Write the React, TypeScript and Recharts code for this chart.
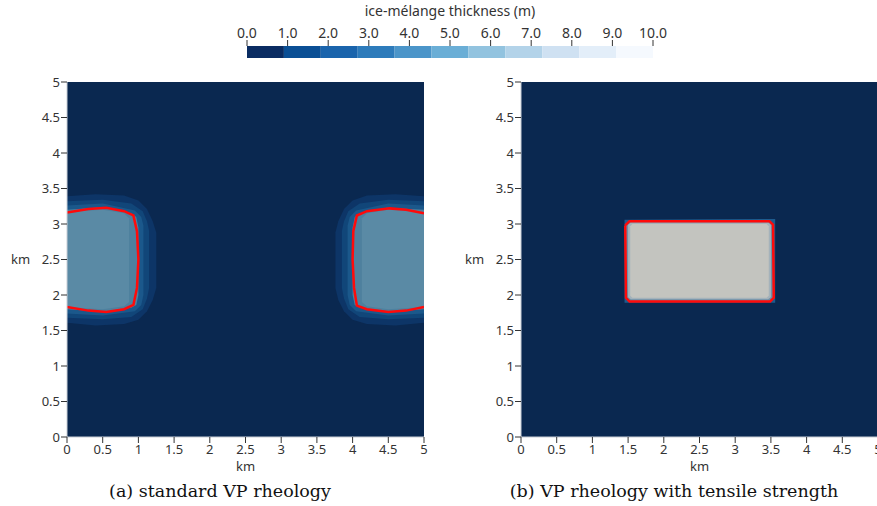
import React from "react";
import { ComposedChart, Area, Line, XAxis, YAxis, Label, BarChart, Bar } from "recharts";

// ---- axes / colorbar ----
const KM_TICKS = [0, 0.5, 1, 1.5, 2, 2.5, 3, 3.5, 4, 4.5, 5];
const CB_TICKS = [0, 1, 2, 3, 4, 5, 6, 7, 8, 9, 10];
const CB_COLORS = [
  "#0a2c62", "#0a4f95", "#1a64ac", "#2d7bbb", "#4b95c9", "#6aaed6",
  "#92c3df", "#b3d3e9", "#cfe1f2", "#e3eef9", "#f5f9fe",
];

// ---- whole domain (thin ice) ----
const domainFill = [
  { x: 0, lo: 0, hi: 5 },
  { x: 5, lo: 0, hi: 5 },
];

// ---- (a) standard VP: left half-floe (x from 0) ----
const aLeftHalo1 = [
  { x: 0, lo: 1.61, hi: 3.39 }, { x: 0.4, lo: 1.57, hi: 3.42 }, { x: 0.8, lo: 1.59, hi: 3.4 },
  { x: 1.0, lo: 1.65, hi: 3.33 }, { x: 1.12, lo: 1.77, hi: 3.21 }, { x: 1.2, lo: 1.93, hi: 3.04 },
  { x: 1.25, lo: 2.1, hi: 2.88 },
];
const aLeftHalo2 = [
  { x: 0, lo: 1.68, hi: 3.32 }, { x: 0.5, lo: 1.66, hi: 3.34 }, { x: 0.9, lo: 1.69, hi: 3.29 },
  { x: 1.06, lo: 1.8, hi: 3.18 }, { x: 1.12, lo: 1.95, hi: 3.04 }, { x: 1.15, lo: 2.1, hi: 2.9 },
];
const aLeftHalo3 = [
  { x: 0, lo: 1.74, hi: 3.26 }, { x: 0.5, lo: 1.71, hi: 3.29 }, { x: 0.95, lo: 1.77, hi: 3.19 },
  { x: 1.04, lo: 1.86, hi: 3.1 }, { x: 1.07, lo: 2.0, hi: 2.98 },
];
const aLeftCore = [
  { x: 0, lo: 1.8, hi: 3.2 }, { x: 0.55, lo: 1.76, hi: 3.24 }, { x: 0.9, lo: 1.82, hi: 3.15 },
  { x: 0.97, lo: 1.86, hi: 3.1 }, { x: 1.0, lo: 2.0, hi: 2.95 },
];
const aLeftInner = [
  { x: 0, lo: 1.83, hi: 3.17 }, { x: 0.5, lo: 1.8, hi: 3.2 }, { x: 0.8, lo: 1.84, hi: 3.15 },
  { x: 0.87, lo: 1.9, hi: 3.08 },
];
const aLeftEdge = [
  { x: 0, y: 3.16 }, { x: 0.3, y: 3.21 }, { x: 0.55, y: 3.23 }, { x: 0.8, y: 3.18 },
  { x: 0.93, y: 3.12 }, { x: 0.98, y: 2.9 }, { x: 1.0, y: 2.5 }, { x: 0.98, y: 2.1 },
  { x: 0.93, y: 1.86 }, { x: 0.8, y: 1.8 }, { x: 0.55, y: 1.76 }, { x: 0.3, y: 1.78 }, { x: 0, y: 1.83 },
];

// ---- (a) right half-floe (x to 5) ----
const aRightHalo1 = [
  { x: 3.76, lo: 2.1, hi: 2.88 }, { x: 3.8, lo: 1.93, hi: 3.04 }, { x: 3.88, lo: 1.77, hi: 3.21 },
  { x: 4.0, lo: 1.65, hi: 3.33 }, { x: 4.2, lo: 1.59, hi: 3.4 }, { x: 4.6, lo: 1.57, hi: 3.42 },
  { x: 5, lo: 1.61, hi: 3.39 },
];
const aRightHalo2 = [
  { x: 3.85, lo: 2.1, hi: 2.9 }, { x: 3.88, lo: 1.95, hi: 3.04 }, { x: 3.94, lo: 1.8, hi: 3.18 },
  { x: 4.1, lo: 1.69, hi: 3.29 }, { x: 4.5, lo: 1.66, hi: 3.34 }, { x: 5, lo: 1.68, hi: 3.32 },
];
const aRightHalo3 = [
  { x: 3.93, lo: 2.0, hi: 2.98 }, { x: 3.96, lo: 1.86, hi: 3.1 }, { x: 4.05, lo: 1.77, hi: 3.19 },
  { x: 4.5, lo: 1.71, hi: 3.29 }, { x: 5, lo: 1.74, hi: 3.26 },
];
const aRightCore = [
  { x: 4.0, lo: 2.0, hi: 2.95 }, { x: 4.03, lo: 1.86, hi: 3.1 }, { x: 4.1, lo: 1.82, hi: 3.15 },
  { x: 4.48, lo: 1.76, hi: 3.23 }, { x: 5, lo: 1.8, hi: 3.2 },
];
const aRightInner = [
  { x: 4.13, lo: 1.9, hi: 3.08 }, { x: 4.2, lo: 1.84, hi: 3.15 }, { x: 4.5, lo: 1.8, hi: 3.2 },
  { x: 5, lo: 1.83, hi: 3.17 },
];
const aRightEdge = [
  { x: 5, y: 3.15 }, { x: 4.75, y: 3.2 }, { x: 4.52, y: 3.22 }, { x: 4.2, y: 3.18 },
  { x: 4.06, y: 3.12 }, { x: 4.01, y: 2.9 }, { x: 4.0, y: 2.5 }, { x: 4.02, y: 2.1 },
  { x: 4.06, y: 1.85 }, { x: 4.2, y: 1.8 }, { x: 4.5, y: 1.76 }, { x: 4.75, y: 1.78 }, { x: 5, y: 1.83 },
];

// ---- (b) VP with tensile strength: single floe ----
const bHalo = [
  { x: 1.45, lo: 1.89, hi: 3.06 },
  { x: 3.56, lo: 1.89, hi: 3.07 },
];
const bRing1 = [
  { x: 1.47, lo: 1.95, hi: 3.0 }, { x: 1.52, lo: 1.91, hi: 3.04 },
  { x: 3.48, lo: 1.91, hi: 3.04 }, { x: 3.53, lo: 1.95, hi: 3.0 },
];
const bRing2 = [
  { x: 1.5, lo: 1.97, hi: 2.99 }, { x: 1.54, lo: 1.94, hi: 3.02 },
  { x: 3.46, lo: 1.94, hi: 3.02 }, { x: 3.5, lo: 1.97, hi: 2.99 },
];
const bCore = [
  { x: 1.53, lo: 1.99, hi: 2.97 }, { x: 1.56, lo: 1.96, hi: 3.0 },
  { x: 3.44, lo: 1.96, hi: 3.0 }, { x: 3.47, lo: 1.99, hi: 2.97 },
];
const bEdge = [
  { x: 1.46, y: 2.98 }, { x: 1.52, y: 3.04 }, { x: 3.48, y: 3.04 }, { x: 3.53, y: 2.99 },
  { x: 3.54, y: 1.96 }, { x: 3.49, y: 1.91 }, { x: 1.52, y: 1.91 }, { x: 1.47, y: 1.96 },
  { x: 1.46, y: 2.98 },
];

const NAVY = "#0a2850";
const RED = "#ff0a0a";
const TICK_STYLE = { fontSize: 13, fill: "#333", fontFamily: "Noto Sans" };
const CB_TICK_STYLE = { fontSize: 14, fill: "#333", fontFamily: "Noto Sans" };

type Layer = { data: { x: number; lo: number; hi: number }[]; fill: string };

const panelA: Layer[] = [
  { data: domainFill, fill: NAVY },
  { data: aLeftHalo1, fill: "#0d3567" },
  { data: aLeftHalo2, fill: "#114679" },
  { data: aLeftHalo3, fill: "#1b588b" },
  { data: aLeftCore, fill: "#4e809e" },
  { data: aLeftInner, fill: "#5a8aa5" },
  { data: aRightHalo1, fill: "#0d3567" },
  { data: aRightHalo2, fill: "#114679" },
  { data: aRightHalo3, fill: "#1b588b" },
  { data: aRightCore, fill: "#4e809e" },
  { data: aRightInner, fill: "#5a8aa5" },
];
const panelB: Layer[] = [
  { data: domainFill, fill: NAVY },
  { data: bHalo, fill: "#1d5b8e" },
  { data: bRing1, fill: "#6e8fa7" },
  { data: bRing2, fill: "#a4b2ba" },
  { data: bCore, fill: "#c3c4bf" },
];

function Panel({ layers, edges, left }: { layers: Layer[]; edges: { x: number; y: number }[][]; left: number }) {
  return (
    <div style={{ position: "absolute", left, top: 60 }}>
      <ComposedChart width={440} height={420} margin={{ top: 22, right: 16, left: 0, bottom: 0 }}>
        <XAxis
          type="number"
          dataKey="x"
          domain={[0, 5]}
          ticks={KM_TICKS}
          allowDataOverflow
          height={43}
          tick={TICK_STYLE}
          tickLine={{ stroke: "#333" }}
          axisLine={{ stroke: "#c9ced6" }}
          interval={0}
        >
          <Label value="km" position="insideBottom" offset={9} style={TICK_STYLE} />
        </XAxis>
        <YAxis
          type="number"
          domain={[0, 5]}
          ticks={KM_TICKS}
          allowDataOverflow
          width={67}
          tick={TICK_STYLE}
          tickLine={{ stroke: "#333" }}
          tickMargin={1}
          axisLine={{ stroke: "#c9ced6" }}
          interval={0}
        >
          <Label value="km" position="insideLeft" offset={11} angle={0} style={TICK_STYLE} />
        </YAxis>
        {layers.map((l, i) => (
          <Area
            key={"a" + i}
            data={l.data}
            dataKey={(d: { lo: number; hi: number }) => [d.lo, d.hi]}
            type="linear"
            stroke="none"
            fill={l.fill}
            fillOpacity={1}
            isAnimationActive={false}
            activeDot={false}
            dot={false}
          />
        ))}
        {edges.map((e, i) => (
          <Line
            key={"l" + i}
            data={e}
            dataKey="y"
            type="linear"
            stroke={RED}
            strokeWidth={2.5}
            dot={false}
            activeDot={false}
            isAnimationActive={false}
          />
        ))}
      </ComposedChart>
    </div>
  );
}

const cbRow = [Object.fromEntries(CB_COLORS.map((_, i) => ["c" + i, 10 / CB_COLORS.length]))];

const captionStyle: React.CSSProperties = {
  position: "absolute",
  width: 440,
  top: 481,
  textAlign: "center",
  fontFamily: "DejaVu Serif",
  fontSize: 17.5,
  color: "#111",
};

export default function App() {
  return (
    <div
      style={{
        position: "fixed",
        left: 0,
        top: 0,
        width: 877,
        height: 506,
        overflow: "hidden",
        background: "#fff",
      }}
    >
      <div style={{ position: "absolute", left: 220, top: 0 }}>
        <BarChart
          width={460}
          height={62}
          layout="vertical"
          data={cbRow}
          margin={{ top: 0, right: 27, left: 27, bottom: 4 }}
          barCategoryGap={0}
        >
          <XAxis
            type="number"
            orientation="top"
            domain={[0, 10]}
            ticks={CB_TICKS}
            interval={0}
            height={46}
            tickFormatter={(v: number) => v.toFixed(1)}
            tick={CB_TICK_STYLE}
            tickLine={{ stroke: "#333" }}
            axisLine={false}
          >
            <Label value="ice-mélange thickness (m)" position="insideTop" offset={6} style={CB_TICK_STYLE} />
          </XAxis>
          <YAxis type="category" hide />
          {CB_COLORS.map((c, i) => (
            <Bar key={c} dataKey={"c" + i} stackId="cb" fill={c} isAnimationActive={false} />
          ))}
        </BarChart>
      </div>

      <Panel layers={panelA} edges={[aLeftEdge, aRightEdge]} left={0} />
      <Panel layers={panelB} edges={[bEdge]} left={454} />

      <div style={{ ...captionStyle, left: 0 }}>(a) standard VP rheology</div>
      <div style={{ ...captionStyle, left: 454 }}>(b) VP rheology with tensile strength</div>
    </div>
  );
}
